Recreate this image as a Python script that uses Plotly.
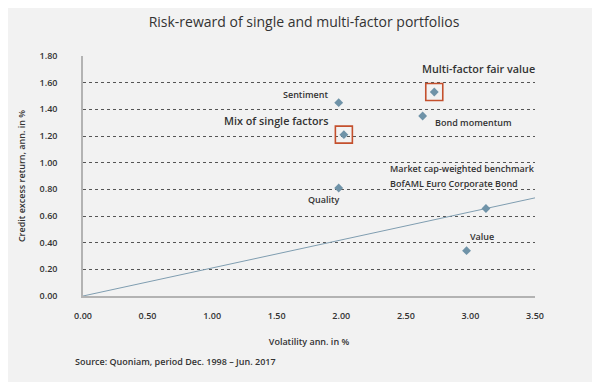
import plotly.graph_objects as go

# Data
names = ["Sentiment", "Multi-factor fair value", "Mix of single factors", "Bond momentum",
         "Quality", "Market cap-weighted benchmark", "Value"]
vol = [1.98, 2.72, 2.02, 2.63, 1.98, 3.12, 2.97]
ret = [1.45, 1.53, 1.21, 1.35, 0.81, 0.656, 0.34]
highlight = [False, True, True, False, False, False, False]
line_x = [0.0, 3.5]
line_y = [0.0, 0.736]
x_ticks = [0, 0.5, 1.0, 1.5, 2.0, 2.5, 3.0, 3.5]
y_ticks = [0, 0.2, 0.4, 0.6, 0.8, 1.0, 1.2, 1.4, 1.6, 1.8]

FONT = "Open Sans"
TXT = "#333333"
MARK = "#6f93a8"
RED = "#c4502d"

fig = go.Figure()
fig.add_trace(go.Scatter(x=line_x, y=line_y, mode="lines",
                         line=dict(color="#7f9db0", width=1), hoverinfo="skip"))
hx = [v for v, h in zip(vol, highlight) if h]
hy = [r for r, h in zip(ret, highlight) if h]
fig.add_trace(go.Scatter(x=hx, y=hy, mode="markers",
                         marker=dict(symbol="square-open", size=17, color=RED,
                                     line=dict(width=1.6, color=RED))))
fig.add_trace(go.Scatter(x=vol, y=ret, mode="markers", text=names,
                         marker=dict(symbol="diamond", size=6.8, color=MARK)))

def ann(text, x, y, xanchor="left", size=9, weight=600):
    fig.add_annotation(x=x, y=y, xref="x", yref="y", text=text,
                       showarrow=False, xanchor=xanchor, yanchor="middle",
                       font=dict(family=FONT, size=size, color=TXT, weight=weight))

ann("Sentiment", 1.913, 1.51, "right")
ann("Multi-factor fair value", 2.61, 1.709, "left", size=10.8)
ann("Mix of single factors", 1.91, 1.317, "right", size=10.8)
ann("Bond momentum", 2.71, 1.30, "left")
ann("Market cap-weighted benchmark", 2.36, 0.956, "left")
ann("BofAML Euro Corporate Bond", 2.36, 0.842, "left")
ann("Quality", 1.867, 0.724, "center")
ann("Value", 3.09, 0.446, "center")

fig.add_annotation(x=-0.022, y=-0.271, xref="paper", yref="paper",
                   text="Source: Quoniam, period Dec. 1998 – Jun. 2017", showarrow=False,
                   xanchor="left", yanchor="middle",
                   font=dict(family=FONT, size=9, color=TXT, weight=600))

fig.update_layout(
    width=592, height=374,
    margin=dict(l=75, r=65, t=48, b=86),
    paper_bgcolor="#f2f2f2", plot_bgcolor="#f2f2f2",
    showlegend=False,
    title=dict(text="Risk-reward of single and multi-factor portfolios", x=0.5, xanchor="center",
               y=0.9626, yanchor="middle", font=dict(family=FONT, size=14, color=TXT)),
    xaxis=dict(range=[0, 3.5], tickvals=x_ticks, ticktext=["%.2f" % v for v in x_ticks],
               showgrid=False, zeroline=False, showline=True, linecolor="#b3b3b3", linewidth=2,
               ticks="outside", ticklen=10, tickcolor="rgba(0,0,0,0)",
               tickfont=dict(family=FONT, size=9, color=TXT, weight=600),
               title=dict(text="Volatility ann. in %", standoff=18,
                          font=dict(family=FONT, size=9, color=TXT, weight=600))),
    yaxis=dict(range=[0, 1.8], tickvals=y_ticks, ticktext=["%.2f" % v for v in y_ticks],
               showgrid=True, gridcolor="#555555", griddash="dot", gridwidth=1,
               zeroline=False, showline=True, linecolor="#b3b3b3", linewidth=1.5,
               ticks="outside", ticklen=22, tickcolor="rgba(0,0,0,0)",
               tickfont=dict(family=FONT, size=9, color=TXT, weight=600),
               title=dict(text="Credit excess return, ann. in %", standoff=12,
                          font=dict(family=FONT, size=9, color=TXT, weight=600))),
)

fig.write_html("out.html")
